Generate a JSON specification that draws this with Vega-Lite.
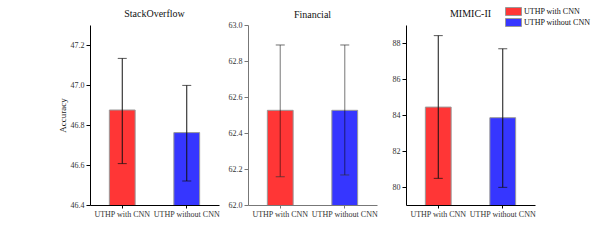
{
  "$schema": "https://vega.github.io/schema/vega-lite/v6.json",
  "padding": {"left": 58, "top": 7, "right": 0, "bottom": 0},
  "spacing": 29,
  "bounds": "flush",
  "config": {
    "font": "Liberation Serif",
    "view": {"stroke": null},
    "axis": {"grid": false, "labelFont": "Liberation Serif", "titleFont": "Liberation Serif", "labelFontSize": 8, "labelColor": "#333", "domainColor": "#000", "tickColor": "#000", "titleFontWeight": "normal", "titleFontSize": 9, "titleColor": "#222", "labelOverlap": false},
    "title": {"font": "Liberation Serif", "fontSize": 10, "fontWeight": "normal", "offset": 6, "color": "#111"}
  },
  "datasets": {
    "so": [
      {"method": "UTHP with CNN", "value": 46.875, "lo": 46.607, "hi": 47.133},
      {"method": "UTHP without CNN", "value": 46.762, "lo": 46.52, "hi": 46.998}
    ],
    "fin": [
      {"method": "UTHP with CNN", "value": 62.526, "lo": 62.157, "hi": 62.889},
      {"method": "UTHP without CNN", "value": 62.526, "lo": 62.167, "hi": 62.889}
    ],
    "mim": [
      {"method": "UTHP with CNN", "value": 84.44, "lo": 80.48, "hi": 88.41},
      {"method": "UTHP without CNN", "value": 83.85, "lo": 79.98, "hi": 87.68}
    ]
  },
  "hconcat": [
    {
      "width": 129, "height": 180,
      "title": "StackOverflow",
      "data": {"name": "so"},
      "encoding": {
        "x": {"field": "method", "type": "nominal", "sort": null, "scale": {"paddingInner": 0.6, "paddingOuter": 0.3}, "axis": {"title": null, "labelAngle": 0, "tickSize": 3, "labelPadding": 2}}
      },
      "layer": [
        {"mark": {"type": "bar", "stroke": "#999", "strokeWidth": 1, "clip": true},
         "encoding": {
           "y": {"field": "value", "type": "quantitative", "scale": {"domain": [46.4, 47.3], "nice": false, "zero": false}, "axis": {"title": "Accuracy", "values": [46.4, 46.6, 46.8, 47.0, 47.2], "format": ".1f", "tickSize": 4, "labelPadding": 2, "titlePadding": 3}},
           "color": {"field": "method", "type": "nominal", "scale": {"range": ["#ff3636", "#3636ff"]}, "legend": {"orient": "none", "legendX": 419, "legendY": -18, "title": null, "symbolType": "M-2,-1H2V1H-2Z", "symbolSize": 64, "symbolStrokeColor": "#999", "symbolStrokeWidth": 1, "symbolOpacity": 1, "labelFont": "Liberation Serif", "labelFontSize": 8, "labelColor": "#111", "rowPadding": -10, "labelOffset": 6, "labelLimit": 200}}
         }},
        {"mark": {"type": "rule", "color": "#111", "strokeWidth": 1},
         "encoding": {"y": {"field": "lo", "type": "quantitative", "axis": {"title": "Accuracy", "values": [46.4, 46.6, 46.8, 47.0, 47.2], "format": ".1f", "tickSize": 4, "labelPadding": 2, "titlePadding": 3}}, "y2": {"field": "hi"}}},
        {"mark": {"type": "tick", "color": "#111", "size": 9, "thickness": 1},
         "encoding": {"y": {"field": "hi", "type": "quantitative", "axis": {"title": "Accuracy", "values": [46.4, 46.6, 46.8, 47.0, 47.2], "format": ".1f", "tickSize": 4, "labelPadding": 2, "titlePadding": 3}}}},
        {"mark": {"type": "tick", "color": "#111", "size": 9, "thickness": 1},
         "encoding": {"y": {"field": "lo", "type": "quantitative", "axis": {"title": "Accuracy", "values": [46.4, 46.6, 46.8, 47.0, 47.2], "format": ".1f", "tickSize": 4, "labelPadding": 2, "titlePadding": 3}}}}
      ]
    },
    {
      "width": 129, "height": 180,
      "title": {"text": "Financial", "dy": 5},
      "data": {"name": "fin"},
      "encoding": {
        "x": {"field": "method", "type": "nominal", "sort": null, "scale": {"paddingInner": 0.6, "paddingOuter": 0.3}, "axis": {"title": null, "labelAngle": 0, "tickSize": 3, "labelPadding": 2, "domainColor": "#777", "tickColor": "#777"}}
      },
      "layer": [
        {"mark": {"type": "bar", "stroke": "#999", "strokeWidth": 1, "clip": true},
         "encoding": {
           "y": {"field": "value", "type": "quantitative", "scale": {"domain": [62.0, 63.0], "nice": false, "zero": false}, "axis": {"title": null, "values": [62.0, 62.2, 62.4, 62.6, 62.8, 63.0], "format": ".1f", "tickSize": 4, "labelPadding": 2, "domainColor": "#777", "tickColor": "#777"}},
           "color": {"field": "method", "type": "nominal"}
         }},
        {"mark": {"type": "rule", "color": "#000", "opacity": 0.45, "strokeWidth": 1.2},
         "encoding": {"y": {"field": "lo", "type": "quantitative", "axis": {"title": null, "values": [62.0, 62.2, 62.4, 62.6, 62.8, 63.0], "format": ".1f", "tickSize": 4, "labelPadding": 2, "domainColor": "#777", "tickColor": "#777"}}, "y2": {"field": "hi"}}},
        {"mark": {"type": "tick", "color": "#333", "size": 9, "thickness": 1},
         "encoding": {"y": {"field": "hi", "type": "quantitative", "axis": {"title": null, "values": [62.0, 62.2, 62.4, 62.6, 62.8, 63.0], "format": ".1f", "tickSize": 4, "labelPadding": 2, "domainColor": "#777", "tickColor": "#777"}}}},
        {"mark": {"type": "tick", "color": "#333", "size": 9, "thickness": 1},
         "encoding": {"y": {"field": "lo", "type": "quantitative", "axis": {"title": null, "values": [62.0, 62.2, 62.4, 62.6, 62.8, 63.0], "format": ".1f", "tickSize": 4, "labelPadding": 2, "domainColor": "#777", "tickColor": "#777"}}}}
      ]
    },
    {
      "width": 129, "height": 180,
      "title": "MIMIC-II",
      "data": {"name": "mim"},
      "encoding": {
        "x": {"field": "method", "type": "nominal", "sort": null, "scale": {"paddingInner": 0.6, "paddingOuter": 0.3}, "axis": {"title": null, "labelAngle": 0, "tickSize": 3, "labelPadding": 2}}
      },
      "layer": [
        {"mark": {"type": "bar", "stroke": "#999", "strokeWidth": 1, "clip": true},
         "encoding": {
           "y": {"field": "value", "type": "quantitative", "scale": {"domain": [79, 89], "nice": false, "zero": false}, "axis": {"title": null, "values": [80, 82, 84, 86, 88], "format": "d", "tickSize": 4, "labelPadding": 2}},
           "color": {"field": "method", "type": "nominal"}
         }},
        {"mark": {"type": "rule", "color": "#111", "strokeWidth": 1},
         "encoding": {"y": {"field": "lo", "type": "quantitative", "axis": {"title": null, "values": [80, 82, 84, 86, 88], "format": "d", "tickSize": 4, "labelPadding": 2}}, "y2": {"field": "hi"}}},
        {"mark": {"type": "tick", "color": "#111", "size": 9, "thickness": 1},
         "encoding": {"y": {"field": "hi", "type": "quantitative", "axis": {"title": null, "values": [80, 82, 84, 86, 88], "format": "d", "tickSize": 4, "labelPadding": 2}}}},
        {"mark": {"type": "tick", "color": "#111", "size": 9, "thickness": 1},
         "encoding": {"y": {"field": "lo", "type": "quantitative", "axis": {"title": null, "values": [80, 82, 84, 86, 88], "format": "d", "tickSize": 4, "labelPadding": 2}}}}
      ]
    }
  ]
}
